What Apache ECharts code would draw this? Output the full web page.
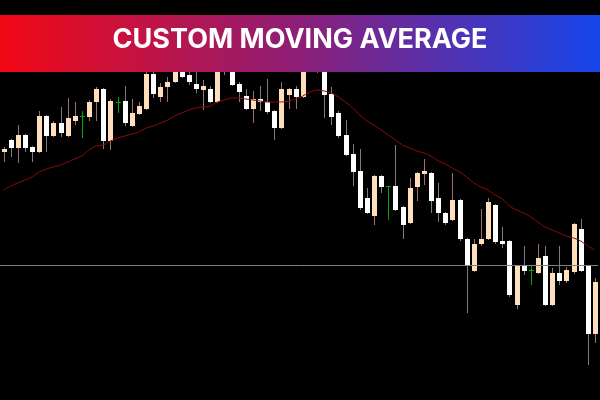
<!DOCTYPE html>
<html>
<head>
<meta charset="utf-8">
<title>Custom Moving Average</title>
<script src="https://cdn.jsdelivr.net/npm/echarts@6/dist/echarts.min.js"></script>
<style>
  html, body { margin: 0; padding: 0; background: #000; }
  #main { width: 600px; height: 400px; }
</style>
</head>
<body>
<div id="main"></div>
<script>
// price bars, oldest first
const opens  = [248,260,252,265,253,248,284,264,277,264,279,284,283,298,311,259,298,299,274,286,
                291,326,303,313,318,334,325,316,310,311,298,345,335,316,304,291,301,298,289,272,
                305,311,303,338,345,335,306,287,265,246,229,202,184,224,214,214,193,177,213,226,
                227,202,187,180,200,161,129,156,161,195,159,159,95,134,130,127,144,95,127,119,
                128,171,134,66];
const closes = [251,252,265,252,248,284,264,277,267,282,284,284,298,311,259,299,298,277,287,294,
                326,306,313,318,332,323,318,311,314,298,334,332,315,308,291,301,298,288,272,311,
                311,303,338,350,335,305,283,264,245,228,192,187,224,213,214,190,175,212,227,229,
                199,187,177,200,161,134,156,161,198,158,156,105,134,129,130,142,95,127,119,130,
                176,129,66,118];
const highs  = [253,261,275,266,254,289,285,279,293,302,298,289,300,313,312,301,303,314,301,298,
                328,328,317,323,338,338,332,330,320,314,340,350,340,318,311,309,314,321,290,318,
                312,314,342,355,350,340,313,289,280,256,251,212,225,225,214,255,194,222,228,241,
                228,217,188,227,201,162,161,191,202,196,173,160,135,154,134,156,154,132,154,133,
                177,181,135,122];
const lows   = [238,243,237,248,238,247,248,263,263,263,275,262,279,279,251,250,287,274,273,285,
                290,302,298,298,317,322,315,307,290,297,297,325,314,298,290,277,289,286,260,271,
                291,291,302,335,327,282,275,262,244,214,190,186,175,207,180,189,161,176,199,215,
                187,178,175,179,159,87,128,154,160,156,152,103,91,125,115,126,94,94,115,117,
                126,128,35,57];

// custom moving average
const maValues = [210,214,217,220,223,228,231,233,235,238,241,244,250,254,255,259,262,264,266,268,
                  272,274,277,280,284,287,290,292,293,294,298,300,302,302,301,300,299,298,298,298,
                  299,301,304,308,310,309,307,303,298,292,285,279,275,270,265,260,255,252,249,247,
                  244,239,236,232,228,223,217,213,210,205,201,194,190,187,183,178,173,170,167,164,
                  162,159,154,150];

const levelLine = 135;
const titleText = 'CUSTOM MOVING AVERAGE';

const categories = opens.map((_, i) => i);
const bars = opens.map((o, i) => [i, o, closes[i], lows[i], highs[i]]);

const chart = echarts.init(document.getElementById('main'));

const renderCandle = (params, api) => {
    const i = api.value(0)
    const o = api.value(1)
    const c = api.value(2)
    const pO = api.coord([i, o])
    const pC = api.coord([i, c])
    const pL = api.coord([i, api.value(3)])
    const pH = api.coord([i, api.value(4)])
    const x = Math.round(pO[0])
    let body, wick
    if (c > o) { body = '#ffdfbb'; wick = '#9c7070' }
    else if (c < o) { body = '#ffffff'; wick = '#7c7c7c' }
    else { body = '#00a800'; wick = '#00a800' }
    const children = [{
        type: 'line',
        shape: { x1: x + 0.5, y1: pH[1], x2: x + 0.5, y2: pL[1] },
        style: { stroke: wick, lineWidth: 1 }
    }]
    if (c === o) {
        children.push({
            type: 'line',
            shape: { x1: x - 2, y1: Math.round(pO[1]) + 0.5, x2: x + 3, y2: Math.round(pO[1]) + 0.5 },
            style: { stroke: body, lineWidth: 1 }
        })
    } else {
        const top = Math.round(Math.min(pO[1], pC[1]))
        const bot = Math.round(Math.max(pO[1], pC[1]))
        children.push({
            type: 'rect',
            shape: { x: x - 2, y: top, width: 5, height: Math.max(1, bot - top) },
            style: { fill: body }
        })
    }
    return { type: 'group', children }
}

chart.setOption({
    backgroundColor: '#000000',
    animation: false,
    grid: { left: -3.5, right: 1.5, top: 0, bottom: 0 },
    xAxis: {
        type: 'category',
        data: categories,
        boundaryGap: true,
        show: false
    },
    yAxis: {
        type: 'value',
        min: 0,
        max: 400,
        show: false,
        splitLine: { show: false }
    },
    series: [
        {
            // horizontal price level
            type: 'line',
            data: [],
            z: 1,
            markLine: {
                silent: true,
                symbol: 'none',
                label: { show: false },
                lineStyle: { color: '#7e7e86', width: 1, type: 'solid' },
                data: [{ yAxis: levelLine }]
            }
        },
        {
            type: 'custom',
            renderItem: renderCandle,
            data: bars,
            z: 2
        },
        {
            type: 'line',
            data: maValues,
            showSymbol: false,
            smooth: 0.3,
            lineStyle: { color: '#8e0a0a', width: 1 },
            z: 3
        }
    ],
    graphic: [
        {
            type: 'rect',
            z: 100,
            shape: { x: 0, y: 15, width: 600, height: 57 },
            style: {
                fill: new echarts.graphic.LinearGradient(0, 0, 1, 0, [
                    { offset: 0, color: '#f20814' },
                    { offset: 0.5, color: '#8c1f78' },
                    { offset: 1, color: '#1646ec' }
                ])
            }
        },
        {
            type: 'text',
            z: 101,
            x: 300,
            y: 40,
            style: {
                text: titleText,
                fill: '#ffffff',
                font: '700 27px Inter, "Open Sans", sans-serif',
                align: 'center',
                verticalAlign: 'middle'
            }
        }
    ]
})
</script>
</body>
</html>
